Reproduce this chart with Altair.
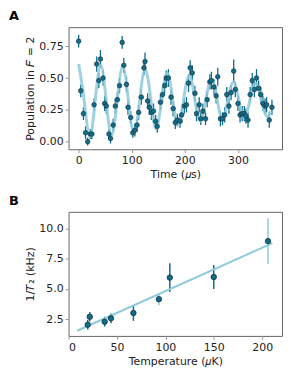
import altair as alt
import pandas as pd

# Panel A: Ramsey-type oscillation data
time_us = [0, 4, 9, 13, 17, 22, 25, 29, 34, 38, 41, 46, 49, 52, 57, 60, 65, 69, 73, 77,
           82, 85, 90, 93, 98, 102, 106, 110, 113, 118, 123, 125, 130, 133, 137, 141, 145, 148, 154, 158,
           162, 165, 169, 174, 178, 182, 186, 191, 194, 199, 203, 207, 210, 214, 219, 222, 227, 230, 234, 239,
           242, 247, 250, 255, 259, 262, 267, 271, 275, 279, 283, 287, 292, 295, 300, 304, 308, 312, 315, 319,
           323, 327, 331, 335, 339, 343, 347, 351, 354, 359, 364]
population = [0.79, 0.40, 0.22, 0.07, 0.00, 0.06, 0.06, 0.29, 0.61, 0.48,
              0.65, 0.50, 0.30, 0.28, 0.06, 0.025, 0.13, 0.28, 0.33, 0.44,
              0.78, 0.60, 0.45, 0.27, 0.19, 0.07, 0.09, 0.13, 0.23, 0.35,
              0.58, 0.63, 0.32, 0.27, 0.23, 0.24, 0.16, 0.12, 0.31, 0.37,
              0.44, 0.50, 0.50, 0.35, 0.26, 0.15, 0.17, 0.16, 0.21, 0.28,
              0.29, 0.46, 0.58, 0.54, 0.38, 0.22, 0.29, 0.18, 0.24, 0.18,
              0.33, 0.47, 0.48, 0.43, 0.36, 0.51, 0.18, 0.18, 0.21, 0.37,
              0.28, 0.385, 0.555, 0.41, 0.30, 0.21, 0.22, 0.22, 0.20, 0.17,
              0.37, 0.48, 0.41, 0.50, 0.42, 0.37, 0.30, 0.28, 0.29, 0.17, 0.27]
pop_err = [0.05, 0.05, 0.05, 0.05, 0.03, 0.04, 0.04, 0.05, 0.06, 0.06,
           0.07, 0.06, 0.06, 0.06, 0.04, 0.04, 0.05, 0.06, 0.06, 0.06,
           0.05, 0.06, 0.06, 0.06, 0.05, 0.04, 0.05, 0.05, 0.06, 0.06,
           0.06, 0.07, 0.06, 0.06, 0.06, 0.06, 0.05, 0.05, 0.06, 0.06,
           0.06, 0.06, 0.07, 0.06, 0.06, 0.05, 0.05, 0.05, 0.06, 0.06,
           0.06, 0.07, 0.06, 0.06, 0.06, 0.06, 0.06, 0.05, 0.06, 0.05,
           0.06, 0.06, 0.07, 0.06, 0.06, 0.07, 0.06, 0.05, 0.06, 0.06,
           0.06, 0.06, 0.09, 0.06, 0.06, 0.06, 0.06, 0.06, 0.06, 0.06,
           0.06, 0.06, 0.06, 0.07, 0.06, 0.06, 0.06, 0.06, 0.06, 0.06, 0.06]

fit_t = [0, 10.4, 20.75, 31.1, 41.5, 51.8, 62, 72.5, 83, 93.5, 104, 114.8, 125, 135.8,
         145.5, 156, 166.5, 177, 187, 197.5, 208, 218.5, 229, 239.5, 250, 260.8, 270.5,
         281, 291.5, 301.8, 312, 322.5, 333, 343.5, 354, 362]
fit_p = [0.61, 0.325, 0.04, 0.32, 0.60, 0.325, 0.05, 0.32, 0.59, 0.33, 0.07, 0.32, 0.57, 0.335,
         0.10, 0.32, 0.54, 0.335, 0.13, 0.325, 0.52, 0.34, 0.16, 0.325, 0.49, 0.335, 0.18,
         0.325, 0.47, 0.33, 0.19, 0.325, 0.46, 0.33, 0.20, 0.24]

# Panel B: decoherence rate vs temperature
temp_uK = [19.8, 21.9, 37.3, 43.8, 67, 93.3, 104.6, 150, 206]
rate_kHz = [2.03, 2.69, 2.28, 2.56, 3.0, 4.15, 5.94, 5.99, 8.97]
rate_err = [0.4, 0.4, 0.4, 0.4, 0.65, 0.5, 1.2, 1.0, 1.9]
err_light = [0, 0, 0, 0, 0, 1, 0, 0, 1]
line_T = [8.9, 210.6]
line_rate = [1.53, 8.8]

DARK = "#0b6f8f"
LIGHT = "#8ec9dc"
EDGE = "#1d2b33"
FONT = "DejaVu Sans"

dfa = pd.DataFrame({"t": time_us, "p": population, "e": pop_err})
dfa["lo"] = dfa["p"] - dfa["e"]
dfa["hi"] = dfa["p"] + dfa["e"]
dfa_fit = pd.DataFrame({"t": fit_t, "p": fit_p})

dfb = pd.DataFrame({"T": temp_uK, "r": rate_kHz, "e": rate_err, "light": err_light})
dfb["lo"] = dfb["r"] - dfb["e"]
dfb["hi"] = dfb["r"] + dfb["e"]
dfb_line = pd.DataFrame({"T": line_T, "r": line_rate})

xa = alt.X("t:Q", scale=alt.Scale(domain=[-19, 383], nice=False, zero=False),
           axis=alt.Axis(values=[0, 100, 200, 300], title="Time (𝜇s)"))
ya_scale = alt.Scale(domain=[-0.06, 0.9], nice=False, zero=False)
ya_axis = alt.Axis(values=[0, 0.25, 0.5, 0.75], format=".2f", title="Population in 𝐹 = 2")
ya = alt.Y("p:Q", scale=ya_scale, axis=ya_axis)

err_a = alt.Chart(dfa).mark_rule(color=DARK, strokeWidth=1.3).encode(
    x=xa, y=alt.Y("lo:Q", scale=ya_scale, axis=ya_axis), y2="hi:Q")
fit_a = alt.Chart(dfa_fit).mark_line(color=LIGHT, strokeWidth=3, opacity=0.85,
                                      interpolate="natural").encode(x=xa, y=ya)
pts_a = alt.Chart(dfa).mark_circle(size=22, color=DARK, opacity=1,
                                   stroke=EDGE, strokeWidth=0.6).encode(x=xa, y=ya)

chart_a = alt.layer(err_a, fit_a, pts_a).properties(
    width=215, height=123,
    title=alt.TitleParams("A", anchor="start", fontSize=13, fontWeight="bold",
                          font=FONT, offset=4, dx=-16, color="#000"))

xb = alt.X("T:Q", scale=alt.Scale(domain=[0, 220.5], nice=False, zero=False),
           axis=alt.Axis(values=[0, 50, 100, 150, 200], title="Temperature (𝜇K)"))
yb_scale = alt.Scale(domain=[1.1, 11.4], nice=False, zero=False)
yb_axis = alt.Axis(values=[2.5, 5.0, 7.5, 10.0], format=".1f", title="1/𝑇₂ (kHz)")
yb = alt.Y("r:Q", scale=yb_scale, axis=yb_axis)

err_b = alt.Chart(dfb).mark_rule(strokeWidth=1.5).encode(
    x=xb, y=alt.Y("lo:Q", scale=yb_scale, axis=yb_axis), y2="hi:Q",
    color=alt.Color("light:N", scale=alt.Scale(domain=[0, 1], range=[DARK, LIGHT]), legend=None))
line_b = alt.Chart(dfb_line).mark_line(color=LIGHT, strokeWidth=2).encode(x=xb, y=yb)
pts_b = alt.Chart(dfb).mark_circle(size=30, color=DARK, opacity=1,
                                   stroke=EDGE, strokeWidth=0.8).encode(x=xb, y=yb)

chart_b = alt.layer(err_b, line_b, pts_b).properties(
    width=215, height=125,
    title=alt.TitleParams("B", anchor="start", fontSize=13, fontWeight="bold",
                          font=FONT, offset=4, dx=-16, color="#000"))

chart = alt.vconcat(chart_a, chart_b, spacing=14, background="white", padding=0).configure_view(
    stroke="#666", strokeWidth=1
).configure_axis(
    grid=False, labelFont=FONT, titleFont=FONT, labelFontSize=11, titleFontSize=11,
    titleFontWeight="normal", labelColor="#222", titleColor="#222",
    domain=False, tickColor="#999", tickSize=3.5, labelPadding=2, titlePadding=3
)

chart.save("out.html", embed_options={"renderer": "svg", "actions": False})
